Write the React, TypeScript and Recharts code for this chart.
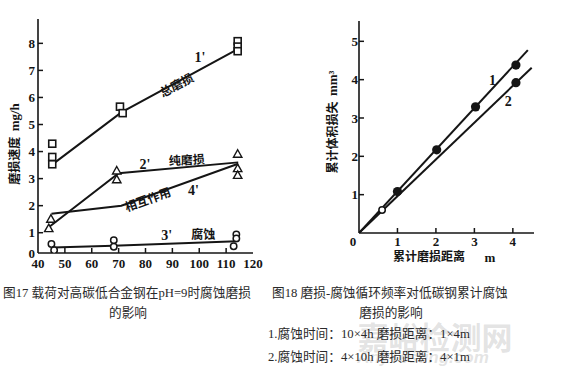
import {
  ComposedChart,
  Line,
  ReferenceDot,
  Scatter,
  XAxis,
  YAxis,
} from "recharts";

// ---- 图17: load vs wear rate ----
const loadTicks = [40, 50, 60, 70, 80, 90, 100, 110, 120];
const RATE_MIN = 0.25;
const RATE_MAX = 8.9;
const rateTicks = [RATE_MIN, 1, 2, 3, 4, 5, 6, 7, 8];

const totalLine = [
  { x: 45, y: 3.5 },
  { x: 71, y: 5.45 },
  { x: 114.5, y: 7.8 },
];
const totalPts = [
  { x: 45.3, y: 4.29 },
  { x: 45.3, y: 3.8 },
  { x: 45.3, y: 3.53 },
  { x: 70.5, y: 5.66 },
  { x: 71.5, y: 5.42 },
  { x: 114.3, y: 8.08 },
  { x: 114.3, y: 7.88 },
  { x: 114.3, y: 7.71 },
];

const pureLine = [
  { x: 44, y: 1.2 },
  { x: 70, y: 3.2 },
  { x: 114.5, y: 3.6 },
];
const purePts = [
  { x: 44, y: 1.15 },
  { x: 44.8, y: 1.5 },
  { x: 69.3, y: 3.28 },
  { x: 69.3, y: 2.96 },
  { x: 114.3, y: 3.9 },
  { x: 114.3, y: 3.37 },
  { x: 114.3, y: 3.12 },
];

const interLine = [
  { x: 45, y: 1.7 },
  { x: 71, y: 2.0 },
  { x: 114.5, y: 3.55 },
];

const corrLine = [
  { x: 45.5, y: 0.45 },
  { x: 68, y: 0.52 },
  { x: 114, y: 0.68 },
];
const corrPts = [
  { x: 45, y: 0.58 },
  { x: 46, y: 0.35 },
  { x: 68.2, y: 0.72 },
  { x: 68.2, y: 0.48 },
  { x: 113.8, y: 0.94 },
  { x: 113.8, y: 0.79 },
  { x: 112.8, y: 0.5 },
];

const fig17Notes = [
  { x: 100.3, y: 7.5, text: "1'", angle: 0, latin: true },
  { x: 91.6, y: 6.45, text: "总磨损", angle: -28, latin: false },
  { x: 79.8, y: 3.55, text: "2'", angle: 0, latin: true },
  { x: 95.4, y: 3.68, text: "纯磨损", angle: -3, latin: false },
  { x: 97.8, y: 2.57, text: "4'", angle: 0, latin: true },
  { x: 80.9, y: 2.22, text: "相互作用", angle: -20, latin: false },
  { x: 87.9, y: 0.91, text: "3'", angle: 0, latin: true },
  { x: 101.5, y: 0.94, text: "腐蚀", angle: 0, latin: false },
];

// ---- 图18: cumulative wear distance vs volume loss ----
const distTicks = [0, 1, 2, 3, 4];
const volTicks = [1, 2, 3, 4, 5];
const DIST_MAX = 4.55;
const VOL_MAX = 5.53;

const cycle1Line = [
  { x: 0, y: 0 },
  { x: 4.39, y: 4.77 },
];
const cycle1Pts = [
  { x: 1.0, y: 1.08 },
  { x: 2.02, y: 2.17 },
  { x: 3.03, y: 3.29 },
  { x: 4.08, y: 4.38 },
];
const cycle2Line = [
  { x: 0, y: 0 },
  { x: 4.49, y: 4.31 },
];
const cycle2Pts = [{ x: 4.08, y: 3.92 }];
const cycle2Open = [{ x: 0.6, y: 0.6 }];

const fig18Notes = [
  { x: 3.47, y: 3.98, text: "1", angle: 0, latin: true },
  { x: 3.88, y: 3.44, text: "2", angle: 0, latin: true },
];

const INK = "#151515";
const SERIF = '"Liberation Serif", "DejaVu Serif", serif';
const CJK = '"Noto Sans CJK SC", sans-serif';
const CAPTION = '"Liberation Serif", "Noto Sans CJK SC", serif';
const FRAME = { stroke: INK, strokeWidth: 1.6 };

function leftTick(gap: number, fmt: (v: number) => string, noLine?: (v: number) => boolean) {
  return (props: any) => {
    const { x, y, payload } = props;
    const v = payload.value;
    return (
      <g>
        {!(noLine && noLine(v)) && (
          <line x1={x + gap} y1={y} x2={x + gap + 5} y2={y} stroke={INK} strokeWidth={1.5} />
        )}
        <text x={x} y={y} dy="0.36em" textAnchor="end" fontFamily={SERIF} fontWeight="bold" fontSize={13} fill={INK}>
          {fmt(v)}
        </text>
      </g>
    );
  };
}

function bottomTick(gap: number, noLine?: (v: number) => boolean, shift?: (v: number) => number) {
  return (props: any) => {
    const { x, y, payload } = props;
    const v = payload.value;
    return (
      <g>
        {!(noLine && noLine(v)) && (
          <line x1={x} y1={y - gap} x2={x} y2={y - gap - 5} stroke={INK} strokeWidth={1.5} />
        )}
        <text x={x + (shift ? shift(v) : 0)} y={y} dy="0.71em" textAnchor="middle" fontFamily={SERIF} fontWeight="bold" fontSize={13} fill={INK}>
          {v}
        </text>
      </g>
    );
  };
}

const square = (p: any) => (
  <rect x={p.cx - 3.5} y={p.cy - 3.5} width={7} height={7} fill="#fff" stroke={INK} strokeWidth={1.6} />
);
const triangle = (p: any) => (
  <path
    d={`M${p.cx},${p.cy - 4.5}L${p.cx + 4.2},${p.cy + 3}L${p.cx - 4.2},${p.cy + 3}Z`}
    fill="#fff"
    stroke={INK}
    strokeWidth={1.4}
  />
);
const ring = (p: any) => <circle cx={p.cx} cy={p.cy} r={3.2} fill="#fff" stroke={INK} strokeWidth={1.5} />;
const dot = (p: any) => <circle cx={p.cx} cy={p.cy} r={4.6} fill={INK} />;

function note(text: string, angle: number, latin: boolean) {
  return (p: any) => (
    <text
      x={p.cx}
      y={p.cy}
      dy="0.35em"
      textAnchor="middle"
      transform={angle ? `rotate(${angle} ${p.cx} ${p.cy})` : undefined}
      fontFamily={latin ? SERIF : CJK}
      fontWeight="bold"
      fontSize={latin ? 14 : 12}
      fill={INK}
    >
      {text}
    </text>
  );
}

function Fig17() {
  return (
    <ComposedChart width={290} height={280} margin={{ top: 19, right: 37, bottom: 7, left: 0 }}>
      <XAxis
        type="number"
        dataKey="x"
        domain={[40, 120]}
        ticks={loadTicks}
        interval={0}
        allowDataOverflow
        axisLine={FRAME}
        tickLine={false}
        tickSize={0}
        tickMargin={6}
        height={20}
        tick={bottomTick(6, (v) => v === 40 || v === 120)}
      />
      <XAxis xAxisId="top" orientation="top" type="number" domain={[40, 120]} allowDataOverflow height={0} tick={false} tickLine={false} axisLine={FRAME} />
      <YAxis
        type="number"
        dataKey="y"
        domain={[RATE_MIN, RATE_MAX]}
        ticks={rateTicks}
        interval={0}
        allowDataOverflow
        axisLine={FRAME}
        tickLine={false}
        tickSize={0}
        tickMargin={3}
        width={38}
        tick={leftTick(3, (v) => (v < 1 ? "0" : String(v)), (v) => v < 1)}
      />
      <YAxis yAxisId="right" orientation="right" type="number" domain={[RATE_MIN, RATE_MAX]} allowDataOverflow width={0} tick={false} tickLine={false} axisLine={FRAME} />
      <Line data={totalLine} dataKey="y" stroke={INK} strokeWidth={2} dot={false} isAnimationActive={false} />
      <Line data={pureLine} dataKey="y" stroke={INK} strokeWidth={2} dot={false} isAnimationActive={false} />
      <Line data={interLine} dataKey="y" stroke={INK} strokeWidth={2} dot={false} isAnimationActive={false} />
      <Line data={corrLine} dataKey="y" stroke={INK} strokeWidth={2} dot={false} isAnimationActive={false} />
      <Scatter data={totalPts} dataKey="y" shape={square} isAnimationActive={false} />
      <Scatter data={purePts} dataKey="y" shape={triangle} isAnimationActive={false} />
      <Scatter data={corrPts} dataKey="y" shape={ring} isAnimationActive={false} />
      {fig17Notes.map((n) => (
        <ReferenceDot key={n.text} x={n.x} y={n.y} r={1} shape={note(n.text, n.angle, n.latin)} />
      ))}
    </ComposedChart>
  );
}

function Fig18() {
  return (
    <ComposedChart width={276} height={270} margin={{ top: 21, right: 42, bottom: 17, left: 0 }}>
      <XAxis
        type="number"
        dataKey="x"
        domain={[0, DIST_MAX]}
        ticks={distTicks}
        interval={0}
        allowDataOverflow
        axisLine={FRAME}
        tickLine={false}
        tickSize={0}
        tickMargin={4}
        height={20}
        tick={bottomTick(4, (v) => v === 0, (v) => (v === 0 ? -6 : 0))}
      />
      <XAxis xAxisId="top" orientation="top" type="number" domain={[0, DIST_MAX]} allowDataOverflow height={0} tick={false} tickLine={false} axisLine={FRAME} />
      <YAxis
        type="number"
        dataKey="y"
        domain={[0, VOL_MAX]}
        ticks={volTicks}
        interval={0}
        allowDataOverflow
        axisLine={FRAME}
        tickLine={false}
        tickSize={0}
        tickMargin={1}
        width={59}
        tick={leftTick(1, (v) => String(v))}
      />
      <YAxis yAxisId="right" orientation="right" type="number" domain={[0, VOL_MAX]} allowDataOverflow width={0} tick={false} tickLine={false} axisLine={FRAME} />
      <Line data={cycle1Line} dataKey="y" stroke={INK} strokeWidth={2} dot={false} isAnimationActive={false} />
      <Line data={cycle2Line} dataKey="y" stroke={INK} strokeWidth={2} dot={false} isAnimationActive={false} />
      <Scatter data={cycle1Pts} dataKey="y" shape={dot} isAnimationActive={false} />
      <Scatter data={cycle2Pts} dataKey="y" shape={dot} isAnimationActive={false} />
      <Scatter data={cycle2Open} dataKey="y" shape={ring} isAnimationActive={false} />
      {fig18Notes.map((n) => (
        <ReferenceDot key={n.text} x={n.x} y={n.y} r={1} shape={note(n.text, n.angle, n.latin)} />
      ))}
    </ComposedChart>
  );
}

const cap = (left: number, top: number, width: number, text: string, align: "left" | "center" = "left") => (
  <div
    style={{
      position: "absolute",
      left,
      top,
      width,
      textAlign: align,
      fontFamily: CAPTION,
      fontSize: 12.7,
      lineHeight: "16px",
      color: "#2a2a2a",
      whiteSpace: "nowrap",
    }}
  >
    {text}
  </div>
);

export default function App() {
  return (
    <div style={{ position: "absolute", left: 0, top: 0, width: 576, height: 376, background: "#fff", overflow: "hidden" }}>
      <div style={{ position: "absolute", left: 0, top: 0 }}>
        <Fig17 />
      </div>
      <div style={{ position: "absolute", left: 300, top: 0 }}>
        <Fig18 />
      </div>

      <svg width={576} height={376} style={{ position: "absolute", left: 0, top: 0, pointerEvents: "none" }}>
        <text
          x={15}
          y={144}
          dy="0.35em"
          textAnchor="middle"
          transform="rotate(-90 15 144)"
          fontFamily={CJK}
          fontWeight="bold"
          fontSize={12}
          fill={INK}
        >
          磨损速度{"\u00a0\u00a0"}
          <tspan fontFamily={SERIF} fontSize={13}>mg/h</tspan>
        </text>
        <text
          x={333}
          y={122}
          dy="0.35em"
          textAnchor="middle"
          transform="rotate(-90 333 122)"
          fontFamily={CJK}
          fontWeight="bold"
          fontSize={12}
          fill={INK}
        >
          累计体积损失{"\u00a0\u00a0"}
          <tspan fontFamily={SERIF} fontSize={13}>mm³</tspan>
        </text>
        <text x={393} y={257} dy="0.35em" fontFamily={CJK} fontWeight="bold" fontSize={12} fill={INK}>
          累计磨损距离
        </text>
        <text x={490} y={257} dy="0.35em" textAnchor="middle" fontFamily={SERIF} fontWeight="bold" fontSize={13} fill={INK}>
          m
        </text>
        <text x={435} y={338} dy="0.35em" textAnchor="middle" fontFamily={CJK} fontWeight="bold" fontSize={31} fill="rgba(160,160,160,0.3)">
          嘉峪检测网
        </text>
        <text x={423} y={357} dy="0.35em" textAnchor="middle" fontFamily='"Liberation Sans", sans-serif' fontStyle="italic" fontWeight="bold" fontSize={17} fill="rgba(160,160,160,0.3)">
          AnyTesting.com
        </text>
      </svg>

      {cap(3, 285, 260, "图17 载荷对高碳低合金钢在pH=9时腐蚀磨损")}
      {cap(0, 305, 256, "的影响", "center")}
      {cap(272, 285, 250, "图18 磨损-腐蚀循环频率对低碳钢累计腐蚀")}
      {cap(272, 305, 238, "磨损的影响", "center")}
      {cap(268, 326, 260, "1.腐蚀时间：10×4h  磨损距离：1×4m")}
      {cap(268, 349, 260, "2.腐蚀时间：4×10h  磨损距离：4×1m")}
    </div>
  );
}
